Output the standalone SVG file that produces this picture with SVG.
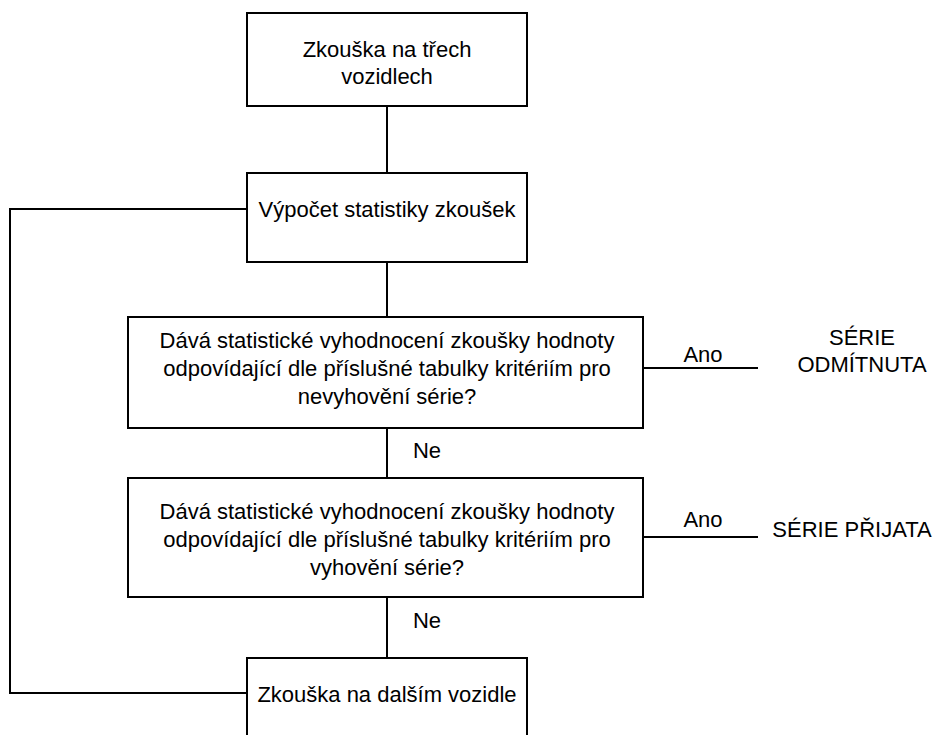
<svg xmlns="http://www.w3.org/2000/svg" width="935" height="735" viewBox="0 0 935 735">
<style>
.box{fill:#fff;stroke:#000;stroke-width:2}
.ln{fill:none;stroke:#000;stroke-width:2}
text{font-family:"Liberation Sans",Arial,sans-serif;font-size:22px;fill:#000;text-anchor:middle}
</style>
<rect width="935" height="735" fill="#fff"/>
<g id="connectors">
<path class="ln" d="M387 106V173"/>
<path class="ln" d="M387 262V317"/>
<path class="ln" d="M387 428V478"/>
<path class="ln" d="M387 597V658"/>
<path class="ln" d="M247 209H10V693H247"/>
<path class="ln" d="M643 368H758"/>
<path class="ln" d="M643 537H758"/>
<text x="703" y="362">Ano</text>
<text x="703" y="527">Ano</text>
<text x="427" y="458">Ne</text>
<text x="427" y="628">Ne</text>
</g>
<g id="n1"><rect class="box" x="247" y="13" width="280" height="93"/>
<text x="387" y="57">Zkouška na třech</text><text x="387" y="84">vozidlech</text></g>
<g id="n2"><rect class="box" x="247" y="173" width="280" height="89"/>
<text x="387" y="217">Výpočet statistiky zkoušek</text></g>
<g id="n3"><rect class="box" x="128" y="317" width="515" height="111"/>
<text x="387" y="348">Dává statistické vyhodnocení zkoušky hodnoty</text>
<text x="387" y="376">odpovídající dle příslušné tabulky kritériím pro</text>
<text x="387" y="404">nevyhovění série?</text></g>
<g id="n4"><rect class="box" x="128" y="478" width="515" height="119"/>
<text x="387" y="519">Dává statistické vyhodnocení zkoušky hodnoty</text>
<text x="387" y="547">odpovídající dle příslušné tabulky kritériím pro</text>
<text x="387" y="575">vyhovění série?</text></g>
<g id="n5"><rect class="box" x="247" y="658" width="280" height="90"/>
<text x="387" y="702">Zkouška na dalším vozidle</text></g>
<g id="t1"><text x="862" y="345">SÉRIE</text><text x="862" y="372">ODMÍTNUTA</text></g>
<g id="t2"><text x="852" y="537">SÉRIE PŘIJATA</text></g>
</svg>
